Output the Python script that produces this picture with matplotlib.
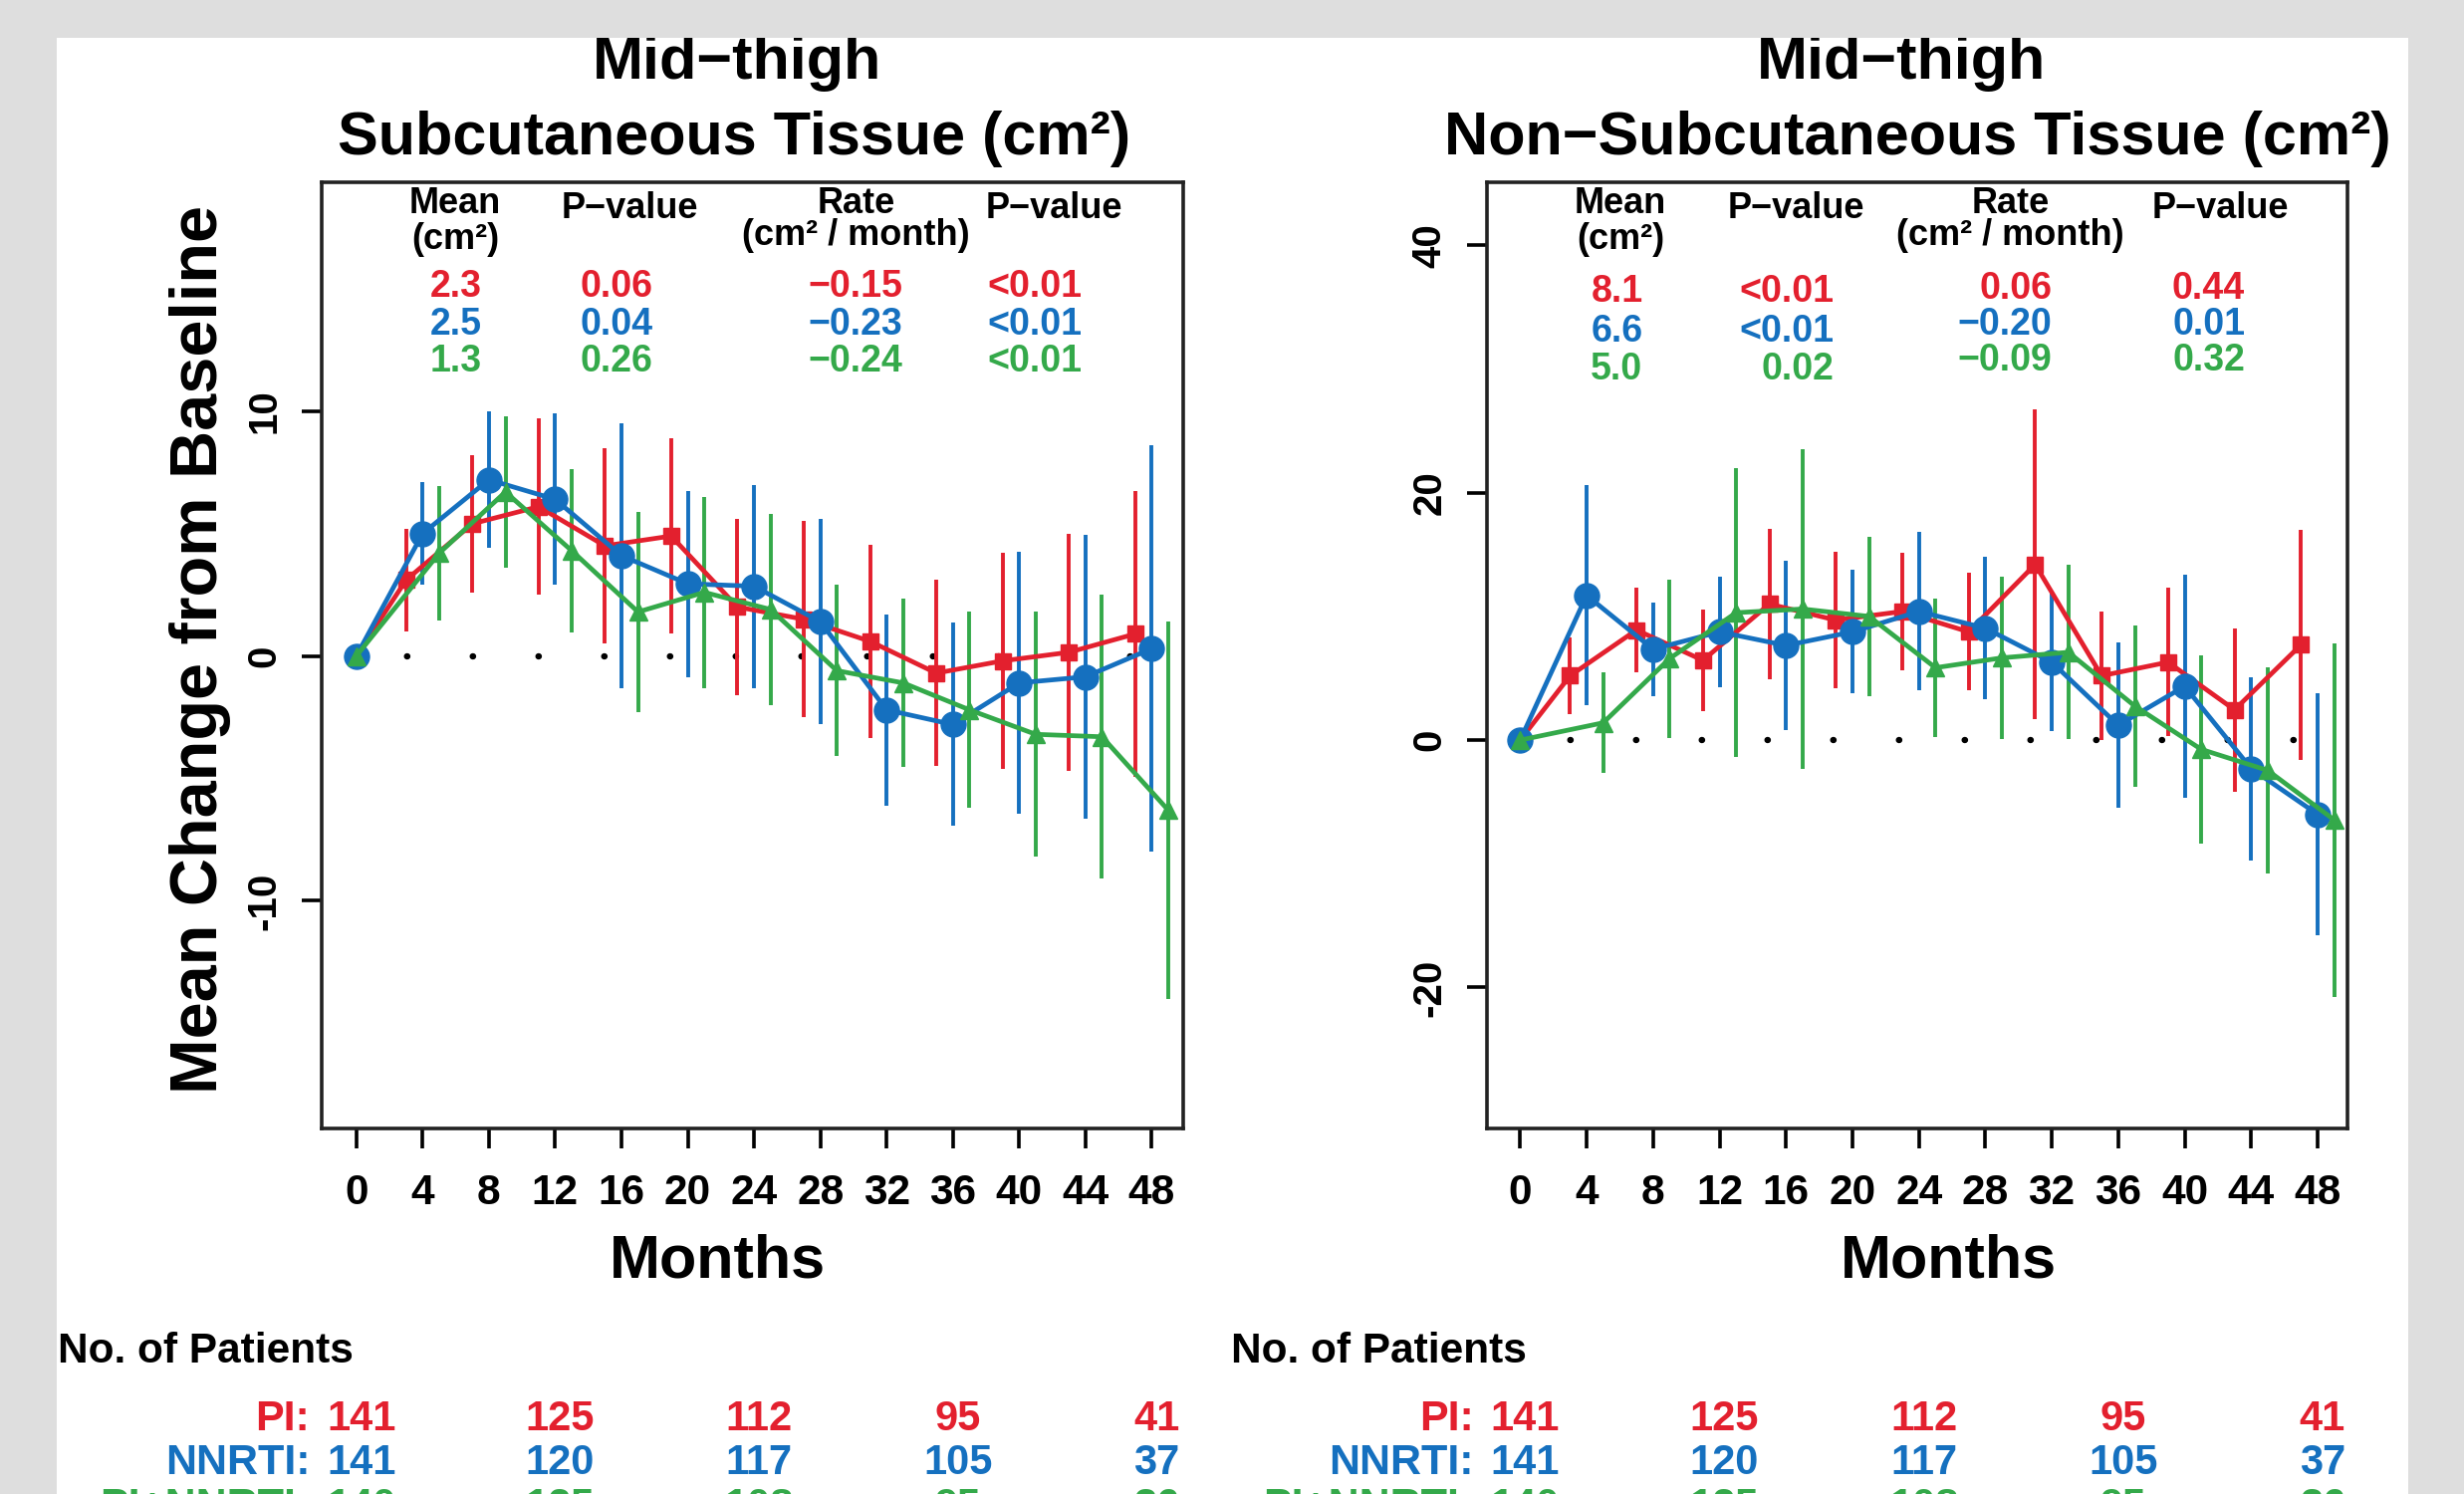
import numpy as np
import matplotlib
matplotlib.use("Agg")
import matplotlib.pyplot as plt
from matplotlib import font_manager
from matplotlib.patches import Rectangle
from matplotlib.transforms import blended_transform_factory

plt.rcParams['font.family'] = ['Liberation Sans', 'DejaVu Sans']
plt.rcParams['font.weight'] = 'bold'
plt.rcParams['axes.unicode_minus'] = False

_names = {f.name for f in font_manager.fontManager.ttflist}
HAS_NARROW = 'Liberation Sans Narrow' in _names
TICK_FAMILY = ['Liberation Sans Narrow', 'Liberation Sans'] if HAS_NARROW else ['Liberation Sans']
TICK_FS = 36 if HAS_NARROW else 30.5

# ---------------- data ----------------
months = np.array([0, 4, 8, 12, 16, 20, 24, 28, 32, 36, 40, 44, 48])
group_names = ["PI", "NNRTI", "PI+NNRTI"]

# Subcutaneous tissue (left panel)
sub_pi_mean = [0, 3.1, 5.4, 6.1, 4.5, 4.9, 2.0, 1.5, 0.6, -0.7, -0.2, 0.15, 0.9]
sub_pi_err = [0, 2.1, 2.8, 3.6, 4.0, 4.0, 3.6, 4.0, 3.95, 3.8, 4.4, 4.85, 5.85]
sub_nn_mean = [0, 5.0, 7.2, 6.4, 4.1, 2.95, 2.85, 1.4, -2.2, -2.8, -1.1, -0.85, 0.3]
sub_nn_err = [0, 2.1, 2.8, 3.5, 5.4, 3.8, 4.15, 4.2, 3.9, 4.15, 5.35, 5.8, 8.3]
sub_co_mean = [0, 4.2, 6.7, 4.3, 1.8, 2.6, 1.9, -0.6, -1.1, -2.2, -3.2, -3.3, -6.3]
sub_co_err = [0, 2.75, 3.1, 3.35, 4.1, 3.9, 3.9, 3.5, 3.45, 4.0, 5.0, 5.8, 7.7]

# Non-subcutaneous tissue (right panel)
non_pi_mean = [0, 5.2, 8.9, 6.45, 11.0, 9.7, 10.4, 8.75, 14.2, 5.2, 6.3, 2.45, 7.7]
non_pi_err = [0, 3.1, 3.4, 4.1, 6.1, 5.5, 4.75, 4.75, 12.5, 5.2, 6.0, 6.6, 9.3]
non_nn_mean = [0, 11.7, 7.35, 8.75, 7.65, 8.75, 10.4, 9.05, 6.3, 1.2, 4.35, -2.3, -6.0]
non_nn_err = [0, 8.9, 3.8, 4.45, 6.85, 5.0, 6.4, 5.75, 5.6, 6.7, 9.0, 7.4, 9.8]
non_co_mean = [0, 1.4, 6.6, 10.3, 10.6, 10.0, 5.85, 6.65, 7.1, 2.75, -0.75, -2.45, -6.45]
non_co_err = [0, 4.05, 6.4, 11.65, 12.9, 6.45, 5.6, 6.6, 7.05, 6.5, 7.6, 8.3, 14.3]

# summary tables
sub_mean_txt = ["2.3", "2.5", "1.3"]
sub_p1_txt = ["0.06", "0.04", "0.26"]
sub_rate_txt = ["\u22120.15", "\u22120.23", "\u22120.24"]
sub_p2_txt = ["<0.01", "<0.01", "<0.01"]
non_mean_txt = ["8.1", "6.6", "5.0"]
non_p1_txt = ["<0.01", "<0.01", "0.02"]
non_rate_txt = ["0.06", "\u22120.20", "\u22120.09"]
non_p2_txt = ["0.44", "0.01", "0.32"]

# number of patients
n_months = [0, 12, 24, 36, 48]
n_pi = [141, 125, 112, 95, 41]
n_nn = [141, 120, 117, 105, 37]
n_co = [140, 125, 108, 95, 36]

sub_yticks = [-10, 0, 10]
non_yticks = [-20, 0, 20, 40]

# ---------------- style ----------------
RED, BLUE, GREEN = '#e3202e', '#1570bf', '#34a94a'
colors = [RED, BLUE, GREEN]
markers = ['s', 'o', '^']
msizes = [11.5, 18, 13.5]
offsets = [-1, 0, 1]

W, H = 2474, 1500
fig = plt.figure(figsize=(W / 100, H / 100), dpi=100, facecolor='#dedede')
fig.patches.append(Rectangle((57 / W, 0), (2418 - 57) / W, 1, transform=fig.transFigure,
                             facecolor='white', edgecolor='none', zorder=-5))
fig.patches.append(Rectangle((0, 1 - 38 / H), 1, 38 / H, transform=fig.transFigure,
                             facecolor='#dedede', edgecolor='none', zorder=20))

axL = fig.add_axes([323 / W, 1 - 1133 / H, 865 / W, 950 / H])
axR = fig.add_axes([1493 / W, 1 - 1133 / H, 864 / W, 950 / H])


def panel(ax, series, xlim, ylim, yticks):
    ax.set_facecolor('none')
    ax.set_xlim(*xlim)
    ax.set_ylim(*ylim)
    ax.plot([0, xlim[1]], [0, 0], color='black', lw=4.6, ls=(2.4, (0.05, 10.28)),
            dash_capstyle='round', solid_capstyle='round', zorder=1.5)
    for (mean, err), c, m, ms, off in zip(series, colors, markers, msizes, offsets):
        x = np.where(months == 0, months, months + off)
        ax.errorbar(x, mean, yerr=err, color=c, lw=3.4, elinewidth=2.8, capsize=0,
                    marker=m, ms=ms, mfc=c, mec=c, zorder=2)
    ax.set_xticks(months)
    ax.set_xticklabels([str(v) for v in months], fontfamily=TICK_FAMILY, fontsize=TICK_FS)
    ax.set_yticks(yticks)
    ax.set_yticklabels([str(v) for v in yticks], rotation=90, va='center', fontsize=29)
    ax.tick_params(axis='both', direction='out', length=14.5, width=2.6, color='black')
    ax.tick_params(axis='x', pad=18)
    ax.tick_params(axis='y', pad=13)
    for s in ax.spines.values():
        s.set_linewidth(2.6)
        s.set_color('#222222')


panel(axL, [(sub_pi_mean, sub_pi_err), (sub_nn_mean, sub_nn_err), (sub_co_mean, sub_co_err)],
      (-2.09, 49.9), (-19.3, 19.35), sub_yticks)
panel(axR, [(non_pi_mean, non_pi_err), (non_nn_mean, non_nn_err), (non_co_mean, non_co_err)],
      (-2.0, 49.8), (-31.4, 45.1), non_yticks)


def table(ax, hx, vx, rows_y, cols):
    fs = 26
    t = ax.transAxes
    ax.text(hx[0], 0.977, "Mean", transform=t, ha='center', va='center', fontsize=fs)
    ax.text(hx[0], 0.940, "(cm\u00b2)", transform=t, ha='center', va='center', fontsize=fs)
    ax.text(hx[1], 0.972, "P\u2212value", transform=t, ha='center', va='center', fontsize=fs)
    ax.text(hx[2], 0.977, "Rate", transform=t, ha='center', va='center', fontsize=fs)
    ax.text(hx[2], 0.944, "(cm\u00b2 / month)", transform=t, ha='center', va='center', fontsize=fs)
    ax.text(hx[3], 0.972, "P\u2212value", transform=t, ha='center', va='center', fontsize=fs)
    for ci, col in enumerate(cols):
        for ri, s in enumerate(col):
            ax.text(vx[ci], rows_y[ci][ri], s, transform=t, ha='right', va='center',
                    fontsize=27, color=colors[ri])


rl = [0.890, 0.849, 0.811]
table(axL, [0.155, 0.358, 0.620, 0.850], [0.186, 0.384, 0.674, 0.882],
      [rl, rl, rl, rl], [sub_mean_txt, sub_p1_txt, sub_rate_txt, sub_p2_txt])
ra = [0.884, 0.842, 0.802]
rb = [0.887, 0.850, 0.812]
table(axR, [0.155, 0.359, 0.608, 0.852], [0.181, 0.403, 0.657, 0.881],
      [ra, ra, rb, rb], [non_mean_txt, non_p1_txt, non_rate_txt, non_p2_txt])

# titles and labels
fig.text(740 / W, 1 - 63 / H, "Mid\u2212thigh", ha='center', va='center', fontsize=44)
fig.text(737 / W, 1 - 139 / H, "Subcutaneous Tissue (cm\u00b2)", ha='center', va='center', fontsize=44)
fig.text(1909 / W, 1 - 63 / H, "Mid\u2212thigh", ha='center', va='center', fontsize=44)
fig.text(1925 / W, 1 - 139 / H, "Non\u2212Subcutaneous Tissue (cm\u00b2)", ha='center', va='center', fontsize=44)
fig.text(720 / W, 1 - 1267 / H, "Months", ha='center', va='center', fontsize=44)
fig.text(1956 / W, 1 - 1267 / H, "Months", ha='center', va='center', fontsize=44)
fig.text(201 / W, 1 - 652 / H, "Mean Change from Baseline", ha='center', va='center',
         rotation=90, fontsize=48)

# number of patients
row_y = [1 - 1425 / H, 1 - 1469 / H, 1 - 1513 / H]
row_vals = [n_pi, n_nn, n_co]
for ax, head_x in [(axL, 58 / W), (axR, 1236 / W)]:
    fig.text(head_x, 1 - 1357 / H, "No. of Patients", ha='left', va='center', fontsize=30.5)
    tr = blended_transform_factory(ax.transData, fig.transFigure)
    for gi in range(3):
        ax.text(-2.8, row_y[gi], group_names[gi] + ":", transform=tr, ha='right', va='center',
                fontsize=31, color=colors[gi], clip_on=False)
        for m, v in zip(n_months, row_vals[gi]):
            ax.text(m + 0.3, row_y[gi], str(v), transform=tr, ha='center', va='center',
                    fontsize=30, color=colors[gi], clip_on=False)

fig.savefig("out.png", dpi=100, facecolor=fig.get_facecolor())
